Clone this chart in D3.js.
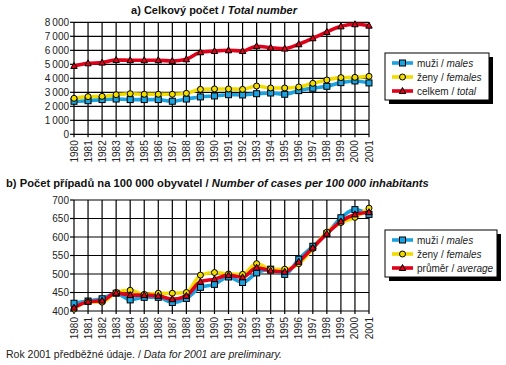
<!DOCTYPE html>
<html><head><meta charset="utf-8">
<script src="https://cdn.jsdelivr.net/npm/d3@7"></script>
<style>body{margin:0;background:#fff}text{font-family:"Liberation Sans",Arial,sans-serif}</style>
</head><body>
<svg id="c" width="506" height="365"></svg>
<script>
const years = d3.range(1980, 2002).map(String);
const yTicksA = [0,1000,2000,3000,4000,5000,6000,7000,8000];
const yTicksB = [400,450,500,550,600,650,700];
const malesA   = [2360,2400,2480,2520,2480,2480,2480,2360,2520,2670,2740,2830,2810,2900,2950,2860,3120,3290,3430,3690,3810,3670];
const femalesA = [2570,2690,2710,2830,2900,2860,2860,2860,2930,3210,3240,3240,3210,3450,3310,3310,3380,3640,3880,4050,4070,4140];
const totalA   = [4880,5070,5120,5310,5290,5290,5290,5240,5360,5860,5950,6000,5950,6290,6190,6120,6430,6860,7310,7710,7860,7760];
const malesB   = [421,427,433,448,430,437,437,423,434,464,472,492,477,503,513,499,540,575,609,652,674,661];
const femalesB = [405,425,424,450,456,445,448,448,450,497,504,500,499,528,513,513,528,569,613,639,653,678];
const avgB     = [409,425,428,449,443,443,441,432,441,479,486,497,491,517,509,506,533,571,609,642,661,667];
const labelsA = [["muži / ","males"],["ženy / ","females"],["celkem / ","total"]];
const labelsB = [["muži / ","males"],["ženy / ","females"],["průměr / ","average"]];
const colors = ["#1aa3e0","#f2dc00","#e0001a"];
const shapes = ["square","circle","triangle"];

const svg = d3.select("#c");
const fmt = v => d3.format(",")(v).replace(/,/g, "\u2009");

function chart(cfg){
  const g = svg.append("g");
  const x = d3.scalePoint().domain(years).range([74, 369]);
  const y = d3.scaleLinear().domain(cfg.dom).range(cfg.yr);
  g.selectAll(".hg").data(cfg.ticks).join("line")
    .attr("x1",74).attr("x2",369).attr("y1",d=>y(d)).attr("y2",d=>y(d))
    .attr("stroke","#000").attr("stroke-width",1.2);
  g.selectAll(".vg").data(years).join("line")
    .attr("x1",d=>x(d)).attr("x2",d=>x(d)).attr("y1",cfg.yr[1]).attr("y2",cfg.yr[0]+3)
    .attr("stroke","#000").attr("stroke-width",1.2);
  g.selectAll(".lt").data(cfg.ticks).join("line")
    .attr("x1",70).attr("x2",74).attr("y1",d=>y(d)).attr("y2",d=>y(d))
    .attr("stroke","#000").attr("stroke-width",1.2);
  g.selectAll(".yl").data(cfg.ticks).join("text")
    .attr("x",69).attr("y",d=>y(d)+3.5).attr("text-anchor","end")
    .attr("font-size",10).attr("fill","#222").text(d=>cfg.fmt(d));
  g.selectAll(".xl").data(years).join("text")
    .attr("transform",d=>`translate(${x(d)+3.5},${cfg.yr[0]+6}) rotate(-90)`)
    .attr("text-anchor","end").attr("font-size",10).attr("fill","#222").text(d=>d);
  const line = d3.line().x((d,i)=>x(years[i])).y(d=>y(d)).curve(d3.curveMonotoneX);
  cfg.series.forEach((s,k)=>{
    g.append("path").datum(s).attr("d",line).attr("fill","none")
      .attr("stroke",colors[k]).attr("stroke-width",3.6).attr("stroke-linejoin","round");
  });
  cfg.series.forEach((s,k)=>{
    s.forEach((v,i)=>marker(g, x(years[i]), y(v), k));
  });
  const lg = svg.append("g");
  lg.append("rect").attr("x",cfg.lx+4).attr("y",cfg.ly+4).attr("width",cfg.lw).attr("height",cfg.lh).attr("fill","#000");
  lg.append("rect").attr("x",cfg.lx).attr("y",cfg.ly).attr("width",cfg.lw).attr("height",cfg.lh).attr("fill","#fff").attr("stroke","#000").attr("stroke-width",1);
  cfg.labels.forEach((l,k)=>{
    const yy = cfg.ly + 10 + k*14;
    lg.append("line").attr("x1",cfg.lx+7).attr("x2",cfg.lx+28).attr("y1",yy).attr("y2",yy).attr("stroke",colors[k]).attr("stroke-width",3.6);
    marker(lg, cfg.lx+17.5, yy, k);
    const t = lg.append("text").attr("x",cfg.lx+32).attr("y",yy+3.5).attr("font-size",10).attr("fill","#222");
    t.append("tspan").text(l[0]);
    t.append("tspan").attr("font-style","italic").text(l[1]);
  });
}
function marker(g, cx, cy, k){
  if(shapes[k]==="square") g.append("rect").attr("x",cx-3).attr("y",cy-3).attr("width",6).attr("height",6).attr("fill",colors[k]).attr("stroke","#000").attr("stroke-width",1);
  else if(shapes[k]==="circle") g.append("circle").attr("cx",cx).attr("cy",cy).attr("r",3).attr("fill",colors[k]).attr("stroke","#000").attr("stroke-width",1);
  else g.append("path").attr("d",`M${cx},${cy-3.5}L${cx+3.2},${cy+2.5}L${cx-3.2},${cy+2.5}Z`).attr("fill",colors[k]).attr("stroke","#000").attr("stroke-width",1);
}

const t1 = svg.append("text").attr("x",214).attr("y",14).attr("text-anchor","middle").attr("font-size",11).attr("font-weight","bold").attr("fill","#111");
t1.append("tspan").text("a) Celkový počet / ");
t1.append("tspan").attr("font-style","italic").text("Total number");
chart({dom:[0,8000], yr:[134.3,22.3], ticks:yTicksA, fmt:fmt, series:[malesA,femalesA,totalA], labels:labelsA, lx:385, ly:53, lw:104, lh:47});

const t2 = svg.append("text").attr("x",6).attr("y",187).attr("font-size",11.2).attr("font-weight","bold").attr("fill","#111");
t2.append("tspan").text("b) Počet případů na 100 000 obyvatel / ");
t2.append("tspan").attr("font-style","italic").text("Number of cases per 100 000 inhabitants");
chart({dom:[400,700], yr:[311,200], ticks:yTicksB, fmt:d=>String(d), series:[malesB,femalesB,avgB], labels:labelsB, lx:385, ly:230, lw:112, lh:47});

const f = svg.append("text").attr("x",6).attr("y",358).attr("font-size",10.5).attr("fill","#222");
f.append("tspan").text("Rok 2001 předběžné údaje. / ");
f.append("tspan").attr("font-style","italic").text("Data for 2001 are preliminary.");
</script>
</body></html>
